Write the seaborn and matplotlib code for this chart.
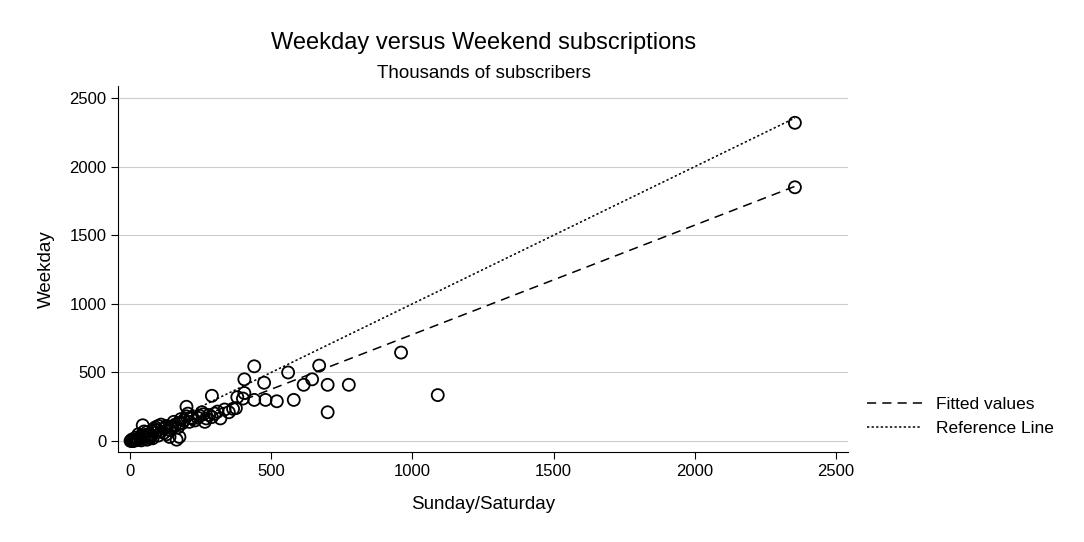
import matplotlib
matplotlib.use("Agg")
import matplotlib.pyplot as plt
import seaborn as sns
import numpy as np
import pandas as pd

sns.set_style("white")
plt.rcParams['font.family'] = ['Liberation Sans', 'DejaVu Sans']
plt.rcParams['text.color'] = 'black'
plt.rcParams['axes.labelcolor'] = 'black'
plt.rcParams['xtick.color'] = 'black'
plt.rcParams['ytick.color'] = 'black'

# Sunday/Saturday vs Weekday subscriptions (thousands)
weekend = [2355, 2355, 960, 1090, 775, 700, 700, 670, 645, 615, 580, 560, 520, 480, 475, 440,
           440, 405, 405, 400, 380, 375, 365, 350, 335, 320, 310, 290, 290, 280, 270, 260,
           255, 240, 230, 220, 210, 200, 205, 200, 190, 180, 175, 170, 165, 175, 160, 150,
           145, 140, 130, 120, 110, 100, 95, 90, 80, 70, 60, 50, 45, 40, 35, 30, 25, 20,
           15, 10, 5, 2, 60, 80, 100, 120, 140, 30, 50, 70, 90, 110, 130,
           185, 215, 245, 265, 300, 155, 125, 85, 65, 55, 20, 12, 8, 40, 75]
weekday = [1850, 2320, 645, 335, 410, 410, 210, 550, 450, 410, 300, 500, 290, 300, 425, 545,
           300, 450, 350, 310, 320, 240, 235, 210, 230, 165, 215, 330, 175, 190, 165, 195,
           210, 170, 150, 165, 140, 250, 200, 180, 150, 160, 130, 100, 10, 30, 120, 105,
           95, 80, 110, 90, 70, 110, 80, 60, 75, 50, 65, 30, 115, 40, 20, 10, 15, 5,
           8, 0, 3, 1, 10, 20, 40, 60, 30, 50, 70, 20, 100, 120, 50,
           130, 170, 185, 140, 200, 140, 100, 90, 40, 45, 25, 2, 12, 5, 35]
df = pd.DataFrame({'weekend': weekend, 'weekday': weekday})

fig = plt.figure(figsize=(10.84, 5.42), dpi=100)
ax = fig.add_axes([0.109, 0.166, 0.673, 0.675])

sns.scatterplot(data=df, x='weekend', y='weekday', ax=ax, marker='o', s=75,
                facecolor='none', edgecolor='black', linewidth=1.3, legend=False)

# least squares fit
slope, intercept = np.polyfit(df['weekend'], df['weekday'], 1)
xs = np.array([df['weekend'].min(), df['weekend'].max()])
ax.plot(xs, slope * xs + intercept, color='black', ls=(0, (6, 4)), lw=1.1, label='Fitted values')
ax.plot(xs, xs, color='black', ls=(0, (1.5, 1.5)), lw=1.1, label='Reference Line')

ax.set_xlim(-42, 2542)
ax.set_ylim(-80, 2587)
ax.set_xticks([0, 500, 1000, 1500, 2000, 2500])
ax.set_yticks([0, 500, 1000, 1500, 2000, 2500])
ax.yaxis.grid(True, color='#cccccc', lw=0.8)
ax.set_axisbelow(True)
for s in ['top', 'right']:
    ax.spines[s].set_visible(False)
for s in ['left', 'bottom']:
    ax.spines[s].set_color('black')
    ax.spines[s].set_linewidth(0.8)
ax.tick_params(direction='out', length=5, width=0.8, color='black', labelsize=12, left=True, bottom=True)
ax.set_xlabel('Sunday/Saturday', fontsize=13.5, labelpad=12)
ax.set_ylabel('Weekday', fontsize=13.5, labelpad=10)

fig.text(0.446, 0.91, 'Weekday versus Weekend subscriptions', ha='center', fontsize=17)
fig.text(0.446, 0.857, 'Thousands of subscribers', ha='center', fontsize=13.5)

handles, labels = ax.get_legend_handles_labels()
fig.legend(handles, labels, loc='center left', bbox_to_anchor=(0.785, 0.232), frameon=False,
           fontsize=12.5, handlelength=3.2, handletextpad=0.8, labelspacing=0.5)

fig.savefig('out.png', dpi=100)
